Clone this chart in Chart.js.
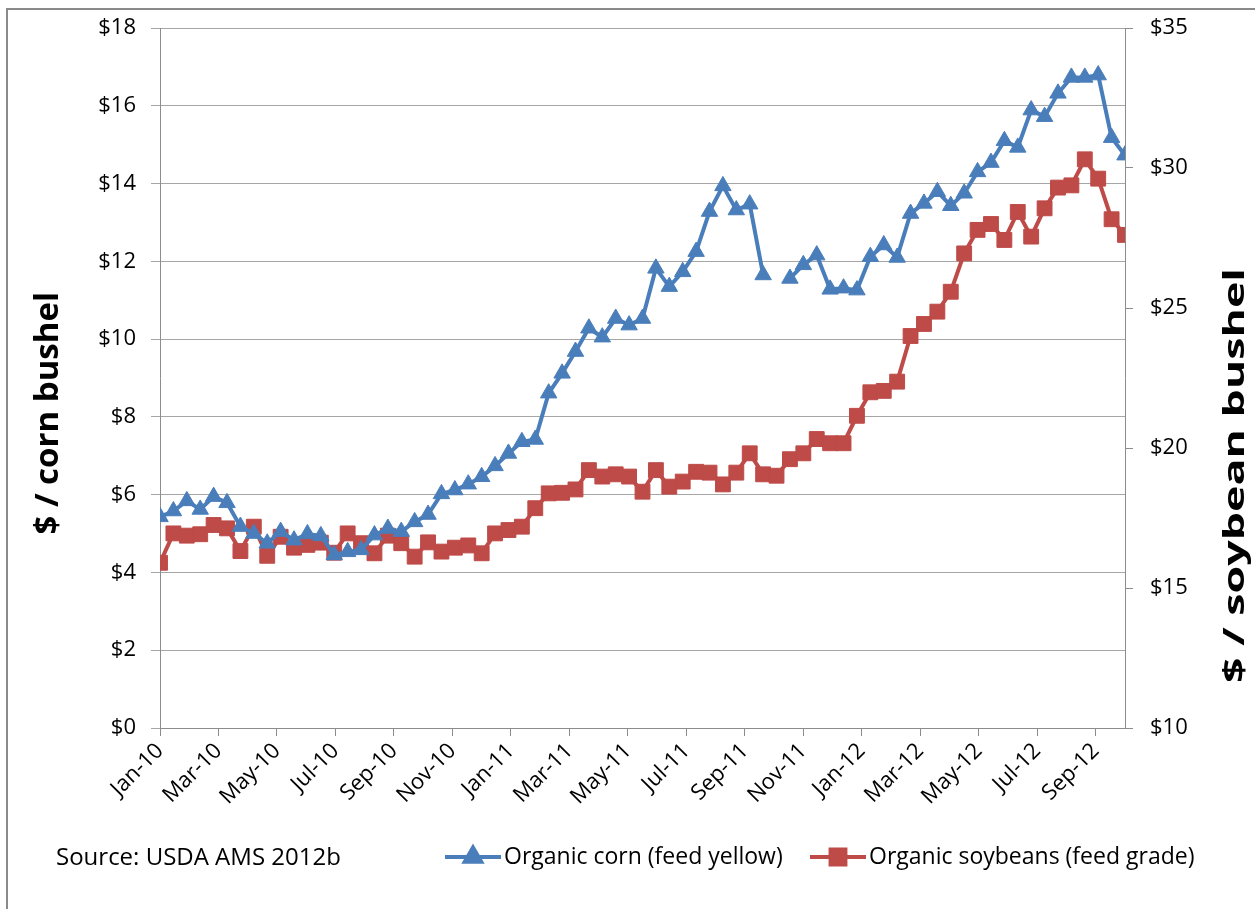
<!DOCTYPE html>
<html>
<head>
<meta charset="utf-8">
<title>Organic corn and soybean prices</title>
<script src="https://cdn.jsdelivr.net/npm/chart.js@4.4.0/dist/chart.umd.min.js"></script>
<style>
    html, body { margin: 0; padding: 0; background: #fff; overflow: hidden; }
    #wrap { position: relative; width: 1255px; height: 909px; }
    #wrap canvas { position: absolute; left: 0; top: 0; }
    #frame { position: absolute; left: 6px; top: 8px; width: 1280px; height: 930px; border: 2px solid #8a8a8a; box-sizing: border-box; pointer-events: none; }
</style>
</head>
<body>
<div id="wrap">
    <canvas id="priceChart" width="1255" height="909"></canvas>
    <div id="frame"></div>
</div>
<script>
// Biweekly reports, Jan-10 through end of Sep-12
const cornPrices = [
    5.43, 5.58, 5.84, 5.62, 5.95, 5.79, 5.18, 5.00, 4.75, 5.05,
    4.83, 4.99, 4.94, 4.45, 4.53, 4.58, 4.96, 5.13, 5.05, 5.30,
    5.49, 6.02, 6.12, 6.27, 6.46, 6.74, 7.06, 7.36, 7.42, 8.61,
    9.12, 9.68, 10.28, 10.05, 10.53, 10.36, 10.53, 11.82, 11.35, 11.73,
    12.25, 13.28, 13.94, 13.32, 13.47, 11.65, null, 11.56, 11.91, 12.16,
    11.28, 11.31, 11.26, 12.12, 12.42, 12.10, 13.23, 13.49, 13.79, 13.43,
    13.75, 14.30, 14.54, 15.10, 14.93, 15.89, 15.72, 16.32, 16.73, 16.73,
    16.79, 15.18, 14.73
];
const soyPrices = [
    15.90, 16.95, 16.87, 16.92, 17.25, 17.13, 16.32, 17.19, 16.15, 16.83,
    16.44, 16.54, 16.62, 16.26, 16.95, 16.60, 16.24, 16.87, 16.60, 16.12,
    16.63, 16.30, 16.44, 16.52, 16.24, 16.95, 17.07, 17.19, 17.85, 18.38,
    18.40, 18.52, 19.21, 18.98, 19.06, 18.98, 18.44, 19.21, 18.62, 18.80,
    19.15, 19.12, 18.70, 19.12, 19.81, 19.06, 19.01, 19.60, 19.81, 20.32,
    20.17, 20.17, 21.15, 21.99, 22.04, 22.37, 24.00, 24.43, 24.87, 25.58,
    26.95, 27.79, 28.00, 27.43, 28.43, 27.55, 28.56, 29.30, 29.38, 30.31,
    29.62, 28.17, 27.61
];
const monthLabels = [
    'Jan-10', 'Mar-10', 'May-10', 'Jul-10', 'Sep-10', 'Nov-10',
    'Jan-11', 'Mar-11', 'May-11', 'Jul-11', 'Sep-11', 'Nov-11',
    'Jan-12', 'Mar-12', 'May-12', 'Jul-12', 'Sep-12'
];
const spanMonths = 33; // first report to last report
const seriesNames = ['Organic corn (feed yellow)', 'Organic soybeans (feed grade)'];
const leftTitle = '$ / corn bushel';
const rightTitle = '$ / soybean bushel';
const sourceNote = 'Source: USDA AMS 2012b';

const blue = '#4a7ebb';
const red = '#be4b48';
const fontName = '"Open Sans", "Liberation Sans", sans-serif';

const nPoints = cornPrices.length;
const toPoints = arr => arr.map((v, i) => ({ x: i, y: v }));

// draws a title rotated to read bottom-to-top, its end at (x, top), stretched to `len` if given
function drawSideTitle(ctx, text, x, top, len) {
    ctx.save();
    ctx.translate(x, top);
    ctx.rotate(-Math.PI / 2);
    if (len) {
        ctx.scale(len / ctx.measureText(text).width, 1);
    }
    ctx.fillText(text, 0, 0);
    ctx.restore();
}

// titles, source note and legend drawn by hand so they sit where the original has them
const extraText = {
    id: 'extraText',
    afterDraw(chart) {
        const ctx = chart.ctx;
        ctx.save();
        ctx.fillStyle = '#000';

        ctx.textAlign = 'right';
        ctx.textBaseline = 'alphabetic';
        ctx.font = 'bold 33px ' + fontName;
        drawSideTitle(ctx, leftTitle, 58, 292);
        ctx.font = 'bold 29px ' + fontName;
        drawSideTitle(ctx, rightTitle, 1244, 268, 415);

        ctx.textAlign = 'left';
        ctx.textBaseline = 'middle';
        ctx.font = '24px ' + fontName;
        ctx.fillText(sourceNote, 56, 858);

        // legend: line + marker + label
        const legendStarts = [445, 810];
        ctx.font = '23px ' + fontName;
        chart.data.datasets.forEach((ds, i) => {
            const x0 = legendStarts[i];
            const y0 = 857;
            ctx.strokeStyle = ds.borderColor;
            ctx.lineWidth = ds.borderWidth;
            ctx.beginPath();
            ctx.moveTo(x0, y0);
            ctx.lineTo(x0 + 56, y0);
            ctx.stroke();
            Chart.helpers.drawPoint(ctx, {
                pointStyle: ds.pointStyle,
                radius: ds.pointRadius,
                borderWidth: 1,
                rotation: 0
            }, x0 + 28, y0);
            ctx.fillStyle = ds.borderColor;
            ctx.fill();
            ctx.fillStyle = '#000';
            ctx.fillText(ds.label, x0 + 59, y0);
        });
        ctx.restore();
    }
};

// keep the plot top at the $18 / $35 line: drop the extra room the scales ask for
const noEdgePadding = scale => {
    scale.paddingTop = 0;
    scale.paddingBottom = 0;
};

const ctx = document.getElementById('priceChart').getContext('2d');
const priceChart = new Chart(ctx, {
    type: 'line',
    data: {
        datasets: [{
            label: seriesNames[0],
            data: toPoints(cornPrices),
            yAxisID: 'yCorn',
            borderColor: blue,
            backgroundColor: blue,
            borderWidth: 4,
            pointStyle: 'triangle',
            pointRadius: 9.5,
            pointBorderWidth: 1,
            spanGaps: false,
            tension: 0
        }, {
            label: seriesNames[1],
            data: toPoints(soyPrices),
            yAxisID: 'ySoy',
            borderColor: red,
            backgroundColor: red,
            borderWidth: 4,
            pointStyle: 'rect',
            pointRadius: 10.5,
            pointBorderWidth: 1,
            tension: 0
        }]
    },
    options: {
        responsive: false,
        animation: false,
        layout: { padding: { top: 28, left: 0, right: 0, bottom: 0 } },
        plugins: {
            legend: { display: false },
            tooltip: { enabled: false }
        },
        scales: {
            x: {
                type: 'linear',
                min: 0,
                max: nPoints - 1,
                afterBuildTicks: scale => {
                    scale.ticks = monthLabels.map((label, k) => ({
                        value: k * 2 * (nPoints - 1) / spanMonths
                    }));
                },
                afterFit: scale => { scale.height = 181; },
                grid: { drawOnChartArea: false, color: '#8c8c8c', tickLength: 8 },
                border: { color: '#8c8c8c', width: 1 },
                ticks: {
                    autoSkip: false,
                    minRotation: 45,
                    maxRotation: 45,
                    padding: 2,
                    color: '#000',
                    font: { family: fontName, size: 22 },
                    callback: (value, index) => monthLabels[index]
                }
            },
            yCorn: {
                position: 'left',
                min: 0,
                max: 18,
                afterFit: scale => { scale.width = 160; noEdgePadding(scale); },
                grid: { color: '#a6a6a6', tickLength: 9 },
                border: { color: '#8c8c8c', width: 1 },
                ticks: {
                    stepSize: 2,
                    padding: 15,
                    color: '#000',
                    font: { family: fontName, size: 22 },
                    callback: v => '$' + v
                }
            },
            ySoy: {
                position: 'right',
                min: 10,
                max: 35,
                afterFit: scale => { scale.width = 130; noEdgePadding(scale); },
                grid: { drawOnChartArea: false, color: '#8c8c8c', tickLength: 8 },
                border: { color: '#8c8c8c', width: 1 },
                ticks: {
                    stepSize: 5,
                    padding: 17,
                    color: '#000',
                    font: { family: fontName, size: 22 },
                    callback: v => '$' + v
                }
            }
        }
    },
    plugins: [extraText]
});
</script>
</body>
</html>
